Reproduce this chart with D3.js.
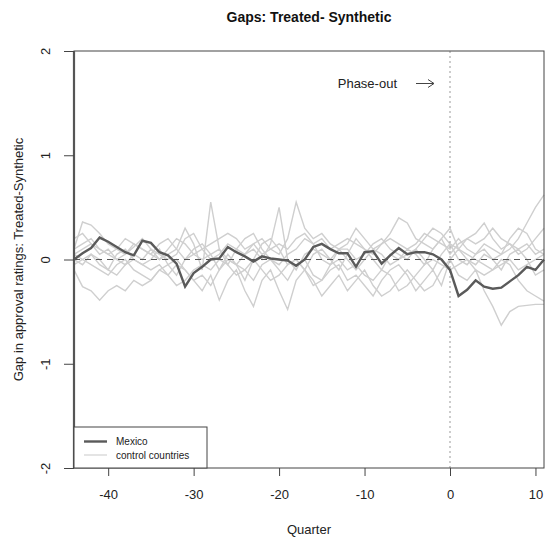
<!DOCTYPE html>
<html>
<head>
<meta charset="utf-8">
<script src="https://cdn.jsdelivr.net/npm/d3@7"></script>
<style>
  body { margin: 0; background: #fff; }
  svg { font-family: "Liberation Sans", Arial, sans-serif; }
</style>
</head>
<body>
<div id="chart"></div>
<script>
// quarters relative to phase-out, -44 .. 11
const quarters = d3.range(-44, 12);

// Mexico gap series
const mexico = [
    0.00, 0.06, 0.11, 0.21, 0.17, 0.12, 0.07, 0.04,
    0.18, 0.16, 0.07, 0.04, -0.04, -0.26, -0.13, -0.07,
    0.00, 0.01, 0.12, 0.07, 0.03, -0.02, 0.03, 0.01,
    0.00, -0.01, -0.06, 0.00, 0.12, 0.15, 0.10, 0.06,
    0.06, -0.07, 0.07, 0.08, -0.04, 0.04, 0.11, 0.05,
    0.07, 0.07, 0.05, 0.00, -0.10, -0.35, -0.29, -0.20,
    -0.26, -0.28, -0.27, -0.21, -0.15, -0.07, -0.10, 0.00
];

// placebo gaps for control countries
const control1 = [
    0.10, 0.36, 0.33, 0.25, 0.15, 0.10, 0.05, 0.12,
    0.20, 0.10, 0.00, 0.05, 0.10, 0.30, 0.15, -0.10,
    0.55, 0.10, -0.05, 0.10, 0.05, 0.15, 0.20, 0.10,
    0.05, 0.20, 0.55, 0.30, 0.20, 0.25, 0.15, 0.10,
    0.15, 0.30, 0.20, 0.10, 0.15, 0.25, 0.40, 0.35,
    0.20, 0.15, 0.10, 0.20, 0.05, 0.15, 0.20, 0.25,
    0.35, 0.20, 0.10, 0.15, 0.05, 0.10, 0.20, 0.30
];
const control2 = [
    -0.10, -0.26, -0.30, -0.39, -0.30, -0.25, -0.30, -0.20,
    -0.25, -0.20, -0.10, -0.15, -0.05, -0.10, -0.20, -0.30,
    -0.15, -0.39, -0.20, -0.10, -0.30, -0.45, -0.20, -0.10,
    -0.30, -0.48, -0.20, -0.10, -0.20, -0.35, -0.25, -0.15,
    -0.30, -0.20, -0.10, -0.25, -0.35, -0.30, -0.20, -0.10,
    -0.20, -0.30, -0.25, -0.10, 0.00, -0.15, -0.20, -0.10,
    -0.30, -0.45, -0.63, -0.50, -0.45, -0.44, -0.43, -0.43
];
const control3 = [
    0.05, 0.10, 0.15, 0.10, 0.05, 0.10, 0.20, 0.15,
    0.10, 0.05, 0.15, 0.20, 0.10, 0.00, 0.05, 0.10,
    0.15, 0.20, 0.25, 0.20, 0.10, 0.15, 0.05, 0.10,
    0.15, 0.10, 0.20, 0.25, 0.15, 0.20, 0.10, 0.15,
    0.20, 0.15, 0.10, 0.05, 0.15, 0.20, 0.15, 0.10,
    0.15, 0.25, 0.20, 0.15, 0.10, 0.20, 0.10, 0.05,
    0.10, 0.00, 0.05, 0.10, 0.20, 0.35, 0.50, 0.62
];
const control4 = [
    0.00, -0.05, 0.05, 0.00, -0.10, 0.05, 0.10, 0.00,
    -0.05, 0.00, 0.10, -0.05, -0.15, 0.00, 0.10, 0.15,
    0.05, -0.10, 0.00, -0.05, -0.20, 0.00, 0.15, 0.20,
    0.10, -0.05, 0.00, -0.10, 0.05, 0.10, 0.00, -0.10,
    0.05, 0.20, 0.10, 0.00, -0.10, 0.05, 0.00, 0.10,
    0.05, -0.05, 0.10, 0.20, 0.30, 0.10, 0.00, -0.05,
    0.05, 0.00, -0.10, 0.05, 0.10, 0.00, -0.15, -0.10
];
const control5 = [
    0.05, 0.00, -0.05, -0.10, -0.15, -0.05, 0.00, -0.10,
    -0.15, -0.20, -0.10, -0.05, 0.00, -0.10, -0.20, -0.15,
    -0.25, -0.10, 0.05, -0.05, -0.10, -0.20, -0.05, 0.00,
    -0.10, -0.20, -0.05, 0.00, -0.15, -0.20, -0.10, -0.05,
    -0.20, -0.15, -0.25, -0.35, -0.20, -0.10, -0.05, -0.15,
    -0.30, -0.20, -0.10, -0.25, 0.00, 0.10, 0.05, 0.00,
    -0.05, -0.10, 0.00, -0.05, -0.20, -0.30, -0.35, -0.40
];
const control6 = [
    0.10, 0.15, 0.20, 0.10, 0.05, 0.00, 0.05, 0.15,
    0.10, 0.05, 0.00, 0.10, 0.20, 0.15, 0.05, 0.00,
    0.05, 0.10, 0.00, -0.05, 0.05, 0.10, 0.00, 0.15,
    0.50, 0.00, -0.10, 0.05, 0.10, 0.05, 0.00, 0.10,
    0.10, 0.00, 0.05, 0.15, 0.20, 0.10, 0.05, 0.00,
    0.10, 0.20, 0.30, 0.25, 0.15, 0.10, 0.20, 0.15,
    0.20, 0.30, 0.20, 0.15, 0.10, 0.15, 0.05, 0.10
];
const control7 = [
    0.20, 0.25, 0.15, 0.05, 0.10, 0.00, -0.05, 0.05,
    0.00, 0.10, 0.05, 0.00, 0.05, 0.20, 0.25, 0.10,
    0.00, 0.05, 0.15, 0.10, 0.20, 0.25, 0.10, 0.00,
    -0.05, 0.05, 0.10, 0.20, 0.15, 0.00, -0.05, 0.10,
    0.00, -0.10, 0.00, 0.10, 0.05, -0.05, 0.00, 0.05,
    0.10, 0.00, -0.10, 0.05, 0.15, 0.00, -0.05, 0.05,
    0.15, 0.10, 0.05, 0.20, 0.30, 0.25, 0.10, 0.05
];
const control8 = [
    -0.05, 0.00, 0.05, -0.05, -0.10, -0.15, -0.05, 0.00,
    -0.05, -0.10, -0.05, -0.15, -0.25, -0.20, -0.10, -0.05,
    -0.10, 0.00, -0.05, -0.15, -0.10, 0.00, -0.10, -0.20,
    -0.15, -0.05, 0.00, -0.10, -0.25, -0.20, -0.05, 0.00,
    -0.10, -0.05, -0.15, -0.20, -0.10, -0.15, -0.30, -0.25,
    -0.15, -0.05, 0.00, -0.05, -0.10, -0.05, 0.00, -0.10,
    -0.15, -0.10, -0.05, 0.00, -0.10, -0.05, 0.00, 0.05
];
const controls = [control1, control2, control3, control4, control5, control6, control7, control8];

const xTicks = [-40, -30, -20, -10, 0, 10];
const yTicks = [-2, -1, 0, 1, 2];

const W = 545, H = 541;
const plotL = 74, plotR = 544, plotT = 51, plotB = 468;

const svg = d3.select("#chart").append("svg").attr("width", W).attr("height", H);

const x = d3.scaleLinear().domain([-44, 11]).range([plotL, plotR]);
const y = d3.scaleLinear().domain([-2, 2]).range([plotB, plotT]);

const line = d3.line().x((d, i) => x(quarters[i])).y(d => y(d));

// control countries first, underneath
svg.append("g").selectAll("path").data(controls).join("path")
    .attr("d", line)
    .attr("fill", "none")
    .attr("stroke", "#cfcfcf")
    .attr("stroke-width", 1.4);

// zero line and phase-out marker
svg.append("line")
    .attr("x1", plotL).attr("x2", plotR).attr("y1", y(0)).attr("y2", y(0))
    .attr("stroke", "#555").attr("stroke-width", 1.2).attr("stroke-dasharray", "6,5");
svg.append("line")
    .attr("x1", x(0)).attr("x2", x(0)).attr("y1", plotT).attr("y2", plotB)
    .attr("stroke", "#999").attr("stroke-width", 1).attr("stroke-dasharray", "2,3");

svg.append("path").datum(mexico)
    .attr("d", line)
    .attr("fill", "none")
    .attr("stroke", "#5a5a5a")
    .attr("stroke-width", 2.4);

// plot box
svg.append("rect")
    .attr("x", plotL).attr("y", plotT).attr("width", plotR - plotL).attr("height", plotB - plotT)
    .attr("fill", "none").attr("stroke", "#444").attr("stroke-width", 1);
svg.append("line")
    .attr("x1", plotL).attr("x2", plotL).attr("y1", plotT).attr("y2", plotB)
    .attr("stroke", "#555").attr("stroke-width", 2.2);

// axes, R style (plain hyphen minus like base graphics)
const xAxis = svg.append("g").attr("transform", `translate(0,${plotB})`)
    .call(d3.axisBottom(x).tickValues(xTicks).tickSize(8).tickPadding(14).tickFormat(d => String(d)));
xAxis.select(".domain").remove();
xAxis.selectAll("line").attr("stroke", "#444");
xAxis.selectAll("text").attr("font-size", 13).attr("fill", "#222")
    .attr("font-family", "Liberation Sans, Arial, sans-serif");

const yAxis = svg.append("g").attr("transform", `translate(${plotL},0)`)
    .call(d3.axisLeft(y).tickValues(yTicks).tickSize(10));
yAxis.select(".domain").remove();
yAxis.selectAll("line").attr("stroke", "#444");
yAxis.selectAll("text").remove();
yAxis.selectAll(".tick").append("text")
    .attr("transform", "translate(-24,0) rotate(-90)")
    .attr("text-anchor", "middle")
    .attr("font-size", 13).attr("fill", "#222")
    .attr("font-family", "Liberation Sans, Arial, sans-serif")
    .text(d => String(d));

// titles
svg.append("text").attr("x", (plotL + plotR) / 2).attr("y", 22)
    .attr("text-anchor", "middle").attr("font-size", 14).attr("font-weight", "bold")
    .attr("fill", "#111").text("Gaps: Treated- Synthetic");
svg.append("text").attr("x", (plotL + plotR) / 2).attr("y", 534)
    .attr("text-anchor", "middle").attr("font-size", 13).attr("fill", "#222").text("Quarter");
svg.append("text").attr("transform", `translate(23,${(plotT + plotB) / 2}) rotate(-90)`)
    .attr("text-anchor", "middle").attr("font-size", 13).attr("fill", "#222")
    .text("Gap in approval ratings: Treated-Synthetic");

// phase-out annotation
svg.append("text").attr("x", 397).attr("y", 88)
    .attr("text-anchor", "end").attr("font-size", 13).attr("fill", "#222").text("Phase-out");
svg.append("line").attr("x1", 416).attr("x2", 434).attr("y1", 83.5).attr("y2", 83.5)
    .attr("stroke", "#444").attr("stroke-width", 1);
svg.append("path").attr("d", "M428,79.5 L434,83.5 L428,87.5")
    .attr("fill", "none").attr("stroke", "#444").attr("stroke-width", 1);

// legend
const lg = svg.append("g");
lg.append("rect").attr("x", plotL).attr("y", 427).attr("width", 133).attr("height", plotB - 427)
    .attr("fill", "#fff").attr("stroke", "#444").attr("stroke-width", 1);
const legendItems = [
    { label: "Mexico", color: "#5a5a5a", width: 2.4 },
    { label: "control countries", color: "#d8d8d8", width: 1.4 }
];
legendItems.forEach((d, i) => {
    const yy = 441.5 + i * 13.5;
    lg.append("line").attr("x1", 84).attr("x2", 107).attr("y1", yy).attr("y2", yy)
        .attr("stroke", d.color).attr("stroke-width", d.width);
    lg.append("text").attr("x", 116).attr("y", yy + 3.5).attr("font-size", 10)
        .attr("fill", "#222").text(d.label);
});
</script>
</body>
</html>
